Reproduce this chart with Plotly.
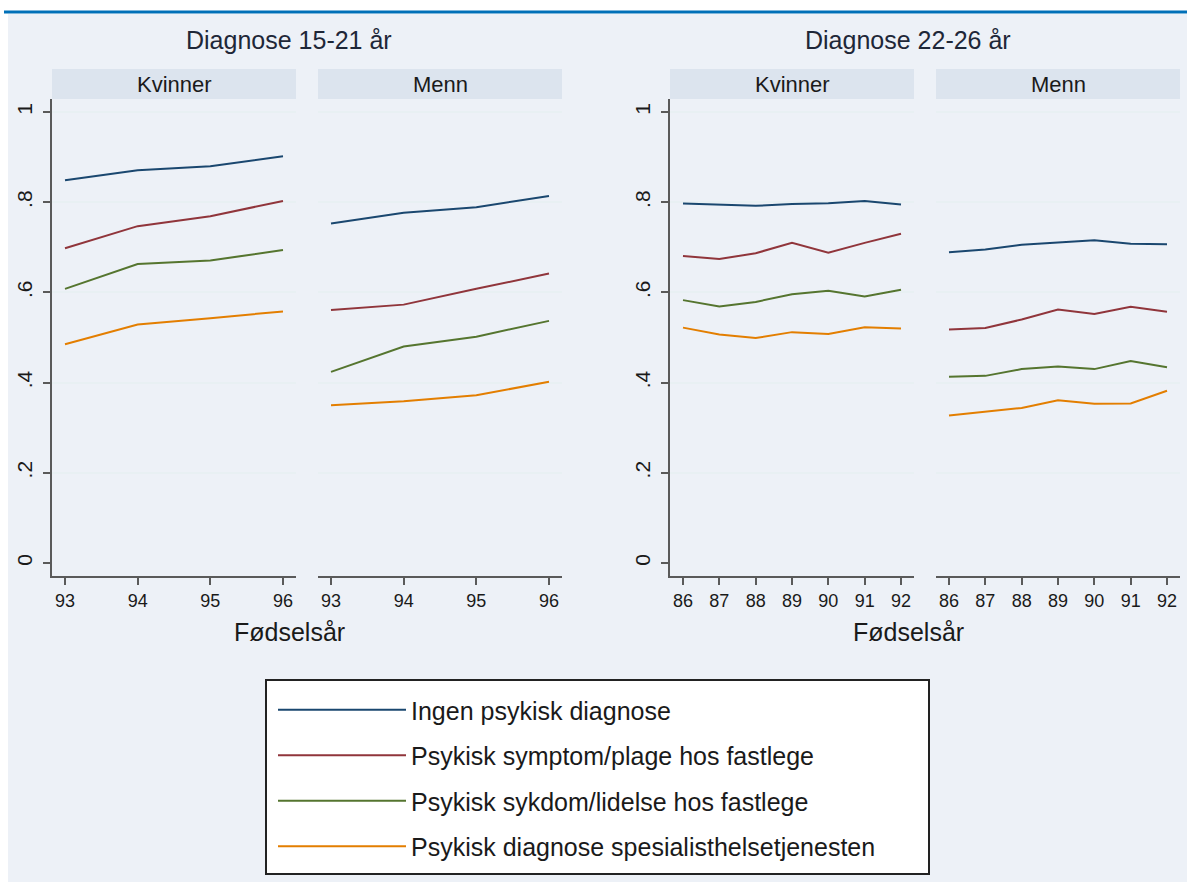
import plotly.graph_objects as go

W, H = 1187, 882

series_names = [
    "Ingen psykisk diagnose",
    "Psykisk symptom/plage hos fastlege",
    "Psykisk sykdom/lidelse hos fastlege",
    "Psykisk diagnose spesialisthelsetjenesten",
]
colors = ["#1A476F", "#90353B", "#55752F", "#E37E00"]

years_a = [93, 94, 95, 96]
years_b = [86, 87, 88, 89, 90, 91, 92]

# Diagnose 15-21 år, Kvinner
kv_a = [
    [0.849, 0.871, 0.880, 0.902],
    [0.698, 0.747, 0.769, 0.803],
    [0.608, 0.663, 0.671, 0.694],
    [0.485, 0.529, 0.543, 0.558],
]
# Diagnose 15-21 år, Menn
me_a = [
    [0.753, 0.777, 0.789, 0.814],
    [0.561, 0.573, 0.608, 0.642],
    [0.424, 0.480, 0.502, 0.537],
    [0.350, 0.359, 0.372, 0.402],
]
# Diagnose 22-26 år, Kvinner
kv_b = [
    [0.797, 0.795, 0.792, 0.796, 0.798, 0.803, 0.795],
    [0.681, 0.674, 0.687, 0.710, 0.688, 0.710, 0.730],
    [0.583, 0.569, 0.579, 0.596, 0.604, 0.591, 0.606],
    [0.522, 0.507, 0.499, 0.512, 0.508, 0.523, 0.520],
]
# Diagnose 22-26 år, Menn
me_b = [
    [0.689, 0.695, 0.706, 0.711, 0.716, 0.708, 0.707],
    [0.518, 0.521, 0.540, 0.562, 0.552, 0.568, 0.557],
    [0.413, 0.415, 0.430, 0.436, 0.430, 0.448, 0.434],
    [0.327, 0.336, 0.344, 0.361, 0.353, 0.354, 0.382],
]

y_tickvals = [0, 0.2, 0.4, 0.6, 0.8, 1.0]
y_ticktext = ["0", ".2", ".4", ".6", ".8", "1"]

group_titles = ["Diagnose 15-21 år", "Diagnose 22-26 år"]
strip_labels = ["Kvinner", "Menn", "Kvinner", "Menn"]
x_title = "Fødselsår"

FONT = "Liberation Sans, Arial, sans-serif"
BG = "#EDF1F7"
STRIP = "#DCE4EE"
GRID = "#E8F0F3"
AXIS = "#5A5A5A"
TXT = "#1A1A1A"

panels = [
    (years_a, kv_a, [52, 296]),
    (years_a, me_a, [318, 562]),
    (years_b, kv_b, [670, 914]),
    (years_b, me_b, [936, 1180]),
]
y_top_px, y_bot_px = 99, 576
ydom = [(H - y_bot_px) / H, (H - y_top_px) / H]

fig = go.Figure()
layout = dict(
    width=W, height=H,
    margin=dict(l=0, r=0, t=0, b=0),
    paper_bgcolor="white",
    plot_bgcolor="white",
    font=dict(family=FONT, color=TXT),
    showlegend=True,
)

for i, (yrs, data, (xl, xr)) in enumerate(panels):
    k = i + 1
    xa = "x" if k == 1 else f"x{k}"
    ya = "y" if k == 1 else f"y{k}"
    for j in range(4):
        fig.add_trace(go.Scatter(
            x=yrs, y=data[j], mode="lines",
            line=dict(color=colors[j], width=2),
            name=series_names[j], legendgroup=f"g{j}",
            showlegend=(i == 0),
            xaxis=xa, yaxis=ya, hoverinfo="skip",
        ))
    span = (xr - xl)
    per = (yrs[-1] - yrs[0])
    pad = 13 / (span - 26) * per
    layout["xaxis" if k == 1 else f"xaxis{k}"] = dict(
        domain=[xl / W, xr / W], anchor=ya,
        range=[yrs[0] - pad, yrs[-1] + pad],
        tickvals=yrs, ticktext=[str(v) for v in yrs],
        ticks="outside", ticklen=7, tickcolor=AXIS, tickwidth=1.5,
        showline=True, linecolor=AXIS, linewidth=2,
        showgrid=False, zeroline=False,
        tickfont=dict(size=18, color=TXT, family=FONT),
    )
    left = k in (1, 3)
    layout["yaxis" if k == 1 else f"yaxis{k}"] = dict(
        domain=ydom, anchor=xa,
        range=[-0.0288, 1.029],
        tickvals=y_tickvals, ticktext=y_ticktext,
        showticklabels=left,
        ticks="outside" if left else "", ticklen=7, tickcolor=AXIS, tickwidth=1.5,
        tickangle=-90, ticklabelstandoff=3,
        showline=left, linecolor=AXIS, linewidth=2,
        showgrid=False, zeroline=False,
        minor=dict(tickvals=[0.2, 0.4, 0.6, 0.8, 1.0], showgrid=True,
                   gridcolor=GRID, gridwidth=2, ticks=""),
        tickfont=dict(size=21, color=TXT, family=FONT),
    )

shapes = [
    dict(type="rect", xref="paper", yref="paper", x0=8 / W, x1=1, y0=0, y1=(H - 14) / H,
         fillcolor=BG, line=dict(width=0), layer="below"),
    dict(type="line", xref="paper", yref="paper", x0=4 / W, x1=1, y0=(H - 12) / H, y1=(H - 12) / H,
         line=dict(color="#0070B8", width=3)),
    # legend frame
    dict(type="rect", xref="paper", yref="paper", x0=266 / W, x1=929 / W,
         y0=(H - 874) / H, y1=(H - 680) / H,
         fillcolor="white", line=dict(color="#222222", width=2), layer="below"),
]
annotations = []
for i, (yrs, data, (xl, xr)) in enumerate(panels):
    shapes.append(dict(type="rect", xref="paper", yref="paper",
                       x0=xl / W, x1=xr / W, y0=(H - 99) / H, y1=(H - 69) / H,
                       fillcolor=STRIP, line=dict(width=0), layer="below"))
    annotations.append(dict(text=strip_labels[i], xref="paper", yref="paper",
                            x=(xl + xr) / 2 / W, y=(H - 84) / H, showarrow=False,
                            xanchor="center", yanchor="middle",
                            font=dict(size=22, color=TXT, family=FONT)))

for g, cx in enumerate([289, 908]):
    annotations.append(dict(text=group_titles[g], xref="paper", yref="paper",
                            x=cx / W, y=(H - 40) / H, showarrow=False,
                            xanchor="center", yanchor="middle",
                            font=dict(size=25, color="#1E2738", family=FONT)))
    annotations.append(dict(text=x_title, xref="paper", yref="paper",
                            x=cx / W, y=(H - 632) / H, showarrow=False,
                            xanchor="center", yanchor="middle",
                            font=dict(size=25, color=TXT, family=FONT)))

layout["shapes"] = shapes
layout["annotations"] = annotations
layout["legend"] = dict(
    x=273 / W, y=(H - 687) / H, xanchor="left", yanchor="top",
    bgcolor="rgba(0,0,0,0)", borderwidth=0,
    font=dict(size=25, color=TXT, family=FONT),
    itemwidth=128, tracegroupgap=10,
    traceorder="grouped",
)
fig.update_layout(**layout)
fig.write_html("out.html", config={"displayModeBar": False},
               post_script="document.body.style.margin='0px';")
